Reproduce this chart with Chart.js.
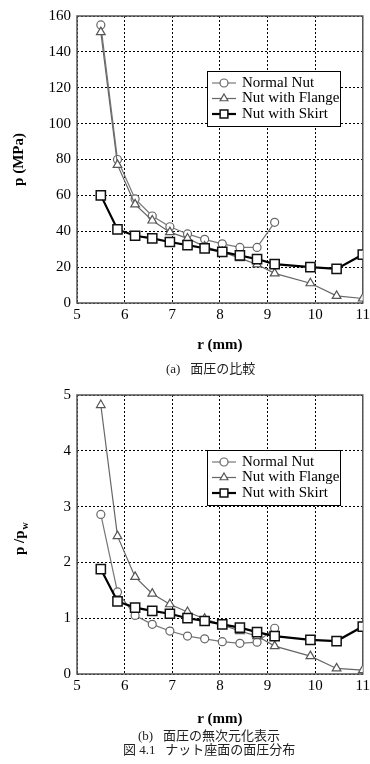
<!DOCTYPE html>
<html>
<head>
<meta charset="utf-8">
<script src="https://cdn.jsdelivr.net/npm/chart.js@4.4.0/dist/chart.umd.min.js"></script>
<style>
html, body { margin: 0; padding: 0; background: #fff; overflow: hidden; width: 370px; height: 764px; }
.box { position: absolute; left: 0; width: 373px; }
.cap { position: absolute; font-family: "Liberation Serif", "Noto Sans CJK JP", serif; font-size: 13px; color: #222; white-space: nowrap; line-height: 14px; }
.jp { font-family: "Noto Sans CJK JP", sans-serif; font-size: 13px; }
</style>
</head>
<body>
<div class="box" style="top:0;height:380px"><canvas id="chartA"></canvas></div>
<div class="box" style="top:380px;height:384px"><canvas id="chartB"></canvas></div>
<div class="cap" style="left:166px;top:361px">(a)&nbsp;&nbsp;&nbsp;<span class="jp">面圧の比較</span></div>
<div class="cap" style="left:138px;top:728px">(b)&nbsp;&nbsp;&nbsp;<span class="jp">面圧の無次元化表示</span></div>
<div class="cap" style="left:123px;top:742px"><span class="jp">図</span> 4.1&nbsp;&nbsp;&nbsp;<span class="jp">ナット座面の面圧分布</span></div>
<script>
// radius r (mm), shared by all series
const r = [5.5, 5.85, 6.22, 6.58, 6.95, 7.32, 7.68, 8.05, 8.42, 8.78, 9.15, 9.9, 10.45, 11.0];

// (a) p (MPa)
const pNormal = [155, 80, 58, 48.5, 42.5, 38.5, 35.5, 33, 31, 31, 45];
const pFlange = [151, 77, 55, 46, 39.5, 36, 31.5, 28.5, 25, 21.5, 16.5, 11, 4, 2.5];
const pSkirt  = [60, 41, 37.5, 36, 34, 32.3, 30.5, 28.5, 26.5, 24.5, 21.7, 20, 19, 27];

// (b) p / pw
const qNormal = [2.86, 1.47, 1.05, 0.89, 0.77, 0.68, 0.63, 0.58, 0.55, 0.57, 0.82];
const qFlange = [4.82, 2.47, 1.74, 1.44, 1.25, 1.11, 0.99, 0.88, 0.77, 0.68, 0.5, 0.32, 0.1, 0.07];
const qSkirt  = [1.88, 1.3, 1.19, 1.13, 1.08, 1.0, 0.95, 0.89, 0.83, 0.75, 0.68, 0.61, 0.59, 0.85];

const xTicks = [5, 6, 7, 8, 9, 10, 11];
const seriesNames = ['Normal Nut', 'Nut with Flange', 'Nut with Skirt'];

const serif = 'Liberation Serif';
const pts = ys => ys.map((y, i) => ({ x: r[i], y: y }));

function makeSets(a, b, c) {
    return [
        { label: seriesNames[0], data: pts(a), order: 3,
          borderColor: '#777', borderWidth: 1.2,
          pointStyle: 'circle', pointRadius: 4, pointBorderWidth: 1.2,
          pointBorderColor: '#666', pointBackgroundColor: '#fff', legendRadius: 4 },
        { label: seriesNames[1], data: pts(b), order: 2,
          borderColor: '#666', borderWidth: 1.2,
          pointStyle: 'triangle', pointRadius: 5, pointBorderWidth: 1.2,
          pointBorderColor: '#555', pointBackgroundColor: '#fff', legendRadius: 4.5 },
        { label: seriesNames[2], data: pts(c), order: 1,
          borderColor: '#000', borderWidth: 2.2,
          pointStyle: 'rect', pointRadius: 6.5, pointBorderWidth: 1.5,
          pointBorderColor: '#111', pointBackgroundColor: '#fff', legendRadius: 5.5 }
    ];
}

// solid frame round the plot area
const frame = {
    id: 'frame',
    beforeDatasetsDraw(chart) {
        const { ctx, chartArea: a } = chart;
        ctx.save();
        ctx.strokeStyle = '#555';
        ctx.lineWidth = 1.5;
        ctx.strokeRect(a.left, a.top, a.right - a.left, a.bottom - a.top);
        ctx.restore();
    }
};

// boxed legend with line + marker samples
const legendBox = {
    id: 'legendBox',
    afterDatasetsDraw(chart) {
        const { ctx, chartArea } = chart;
        const x = chartArea.left + 130, y = chartArea.top + 55;
        ctx.save();
        ctx.fillStyle = '#fff';
        ctx.fillRect(x, y, 133, 55);
        ctx.strokeStyle = '#000';
        ctx.lineWidth = 1;
        ctx.strokeRect(x + 0.5, y + 0.5, 133, 55);
        chart.data.datasets.forEach((ds, i) => {
            const cy = y + 12 + i * 15.5;
            ctx.strokeStyle = ds.borderColor;
            ctx.lineWidth = ds.borderWidth;
            ctx.beginPath();
            ctx.moveTo(x + 5, cy);
            ctx.lineTo(x + 29, cy);
            ctx.stroke();
            ctx.fillStyle = ds.pointBackgroundColor;
            ctx.strokeStyle = ds.pointBorderColor;
            ctx.lineWidth = ds.pointBorderWidth;
            Chart.helpers.drawPoint(ctx, { pointStyle: ds.pointStyle, radius: ds.legendRadius, borderWidth: ds.pointBorderWidth, rotation: 0 }, x + 17, cy);
            ctx.fillStyle = '#000';
            ctx.font = '15px "' + serif + '"';
            ctx.textBaseline = 'middle';
            ctx.fillText(ds.label, x + 35, cy);
        });
        ctx.restore();
    }
};

// y title with subscript for chart (b)
const ratioTitle = {
    id: 'ratioTitle',
    afterDraw(chart) {
        if (chart.canvas.id !== 'chartB') return;
        const { ctx } = chart;
        ctx.save();
        ctx.translate(20, 175);
        ctx.rotate(-Math.PI / 2);
        ctx.fillStyle = '#000';
        ctx.textBaseline = 'middle';
        ctx.font = 'bold 15px "' + serif + '"';
        ctx.fillText('p /p', 0, 0);
        const w = ctx.measureText('p /p').width;
        ctx.font = 'bold 10px "' + serif + '"';
        ctx.fillText('w', w + 1, 5);
        ctx.restore();
    }
};

function makeChart(id, sets, yMax, yStep, yTitle, top, xHeight, titlePad) {
    return new Chart(document.getElementById(id), {
        type: 'line',
        data: { datasets: sets },
        plugins: [frame, legendBox, ratioTitle],
        options: {
            responsive: true,
            maintainAspectRatio: false,
            animation: false,
            layout: { padding: { top: top, right: 0, bottom: 0, left: 0 } },
            plugins: { legend: { display: false }, tooltip: { enabled: false } },
            scales: {
                x: {
                    type: 'linear', min: 5, max: 11,
                    afterBuildTicks: s => { s.ticks = xTicks.map(v => ({ value: v })); },
                    afterFit: s => { s.height = xHeight; },
                    grid: { color: '#000', lineWidth: 1, drawTicks: false },
                    border: { display: false, dash: [2, 2] },
                    ticks: { color: '#000', padding: 3, font: { family: serif, size: 15 } },
                    title: { display: true, text: 'r (mm)', color: '#000',
                             padding: { top: 0, bottom: titlePad },
                             font: { family: serif, size: 15, weight: 'bold' } }
                },
                y: {
                    min: 0, max: yMax,
                    afterFit: s => { s.width = 77; },
                    grid: { color: '#000', lineWidth: 1, drawTicks: false },
                    border: { display: false, dash: [2, 2] },
                    ticks: { color: '#000', padding: 6, stepSize: yStep, font: { family: serif, size: 15 } },
                    title: { display: yTitle !== '', text: yTitle, color: '#000',
                             padding: { top: 10, bottom: 0 },
                             font: { family: serif, size: 15, weight: 'bold' } }
                }
            }
        }
    });
}

makeChart('chartA', makeSets(pNormal, pFlange, pSkirt), 160, 20, 'p (MPa)', 16, 77, 26);
makeChart('chartB', makeSets(qNormal, qFlange, qSkirt), 5, 1, '', 9, 90, 36);
</script>
</body>
</html>
